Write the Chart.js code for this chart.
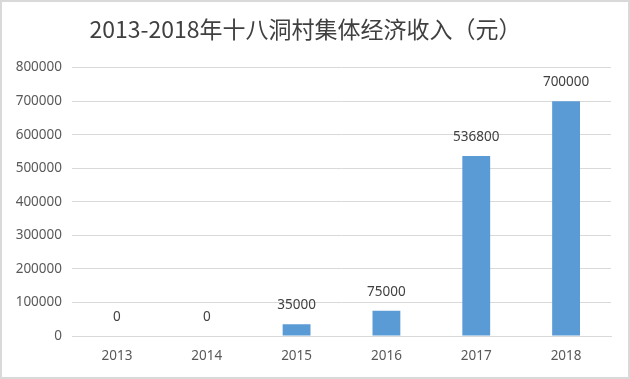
<!DOCTYPE html>
<html>
<head>
<meta charset="utf-8">
<script src="https://cdn.jsdelivr.net/npm/chart.js@4"></script>
<style>
  html, body { margin: 0; padding: 0; background: #fff; }
  #wrap { width: 630px; height: 379px; position: relative; }
</style>
</head>
<body>
<div id="wrap"><canvas id="incomeChart" width="630" height="379"></canvas></div>
<script>
// 十八洞村集体经济收入
const years = ['2013', '2014', '2015', '2016', '2017', '2018'];
const income = [0, 0, 35000, 75000, 536800, 700000];
const yTicks = [0, 100000, 200000, 300000, 400000, 500000, 600000, 700000, 800000];

const numFont = { family: "'Noto Sans', 'Open Sans', sans-serif", size: 13.5 };

// draw value labels above bars
const valueLabels = {
  id: 'valueLabels',
  afterDatasetsDraw(chart) {
    const ctx = chart.ctx;
    const meta = chart.getDatasetMeta(0);
    ctx.save();
    ctx.font = `${numFont.size}px ${numFont.family}`;
    ctx.fillStyle = '#404040';
    ctx.textAlign = 'center';
    ctx.textBaseline = 'middle';
    meta.data.forEach((bar, i) => {
      ctx.fillText(String(income[i]), bar.x, bar.y - 19);
    });
    ctx.restore();
  }
};

// light frame round the picture
const frame = {
  id: 'frame',
  afterDraw(chart) {
    const ctx = chart.ctx;
    ctx.save();
    ctx.strokeStyle = '#d9d9d9';
    ctx.lineWidth = 2;
    ctx.strokeRect(1, 1, chart.width - 2, chart.height - 2);
    ctx.restore();
  }
};

new Chart(document.getElementById('incomeChart'), {
  type: 'bar',
  data: {
    labels: years,
    datasets: [{
      data: income,
      backgroundColor: '#5B9BD5',
      barPercentage: 0.31,
      categoryPercentage: 1.0
    }]
  },
  options: {
    responsive: false,
    animation: false,
    layout: { padding: { top: 0, right: 19, bottom: 0, left: 0 } },
    plugins: {
      legend: { display: false },
      tooltip: { enabled: false },
      title: {
        display: true,
        text: '2013-2018年十八洞村集体经济收入（元）',
        color: '#404040',
        font: { family: "'Noto Sans CJK SC', sans-serif", size: 23, weight: 'normal' },
        padding: { top: 15, bottom: 25 }
      }
    },
    scales: {
      x: {
        grid: { display: false, drawTicks: false },
        border: { display: true, color: '#d9d9d9', width: 1 },
        ticks: { color: '#595959', font: numFont, padding: 12 },
        afterFit(scale) { scale.height = 43; }
      },
      y: {
        min: 0,
        max: 800000,
        afterBuildTicks(scale) { scale.ticks = yTicks.map(v => ({ value: v })); },
        grid: { color: '#d9d9d9', drawTicks: false },
        border: { display: false },
        ticks: { color: '#595959', font: numFont, padding: 10, callback: v => String(v) },
        afterFit(scale) { scale.width = 72; }
      }
    }
  },
  plugins: [valueLabels, frame]
});
</script>
</body>
</html>
